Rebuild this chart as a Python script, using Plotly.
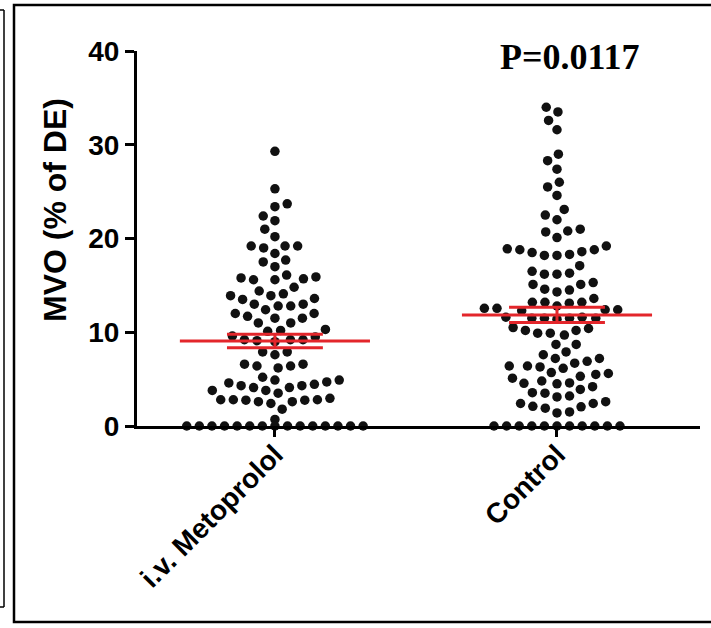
import math
import plotly.graph_objects as go

# ---------------- data ----------------
categories = ["i.v. Metoprolol", "Control"]

metoprolol = [29.3, 25.3, 23.7, 23.4, 22.4, 21.9, 21.0, 20.2, 19.2, 19.2, 19.2, 19.0,
              18.4, 17.7, 17.5, 17.0,
              16.1, 15.9, 15.8, 15.7, 15.6, 15.6,
              14.8, 14.4, 14.1, 13.9, 13.9, 13.6, 13.5,
              13.0, 13.0, 12.8, 12.8, 12.4, 12.0, 12.0, 11.7, 11.5, 11.5, 11.0, 11.0,
              10.3, 10.2, 10.1,
              9.6, 9.5, 9.2, 9.2, 9.2, 9.1, 9.0,
              7.9, 7.9, 7.6,
              6.6, 6.6, 6.4, 6.4, 6.2,
              5.2,
              4.9, 4.9, 4.7, 4.6, 4.45, 4.3, 4.3, 4.1, 4.1, 3.8, 3.8, 3.5,
              2.95, 2.8, 2.8, 2.8, 2.75, 2.75, 2.6, 2.6, 2.4,
              1.8, 0.7,
              0, 0, 0, 0, 0, 0, 0, 0, 0, 0, 0, 0, 0, 0, 0]

control = [34.0, 33.5, 32.6, 31.6,
           29.0, 28.3, 27.4, 26.0, 25.5, 24.6,
           23.1, 22.5, 22.0, 21.0, 20.8, 20.7, 20.1,
           19.2, 18.9, 18.8, 18.8, 18.6, 18.5, 18.3, 18.2, 18.2,
           17.1, 16.5, 16.3, 16.2, 16.2,
           15.3, 15.1, 15.1, 14.6, 14.5, 14.3,
           13.6, 13.2, 13.2, 13.2, 13.1, 12.8, 12.55, 12.55, 12.4, 12.4, 12.3,
           11.6, 11.5, 11.5, 11.4, 11.5, 11.5, 11.6,
           10.5, 10.2, 9.9, 9.7, 9.9, 10.2, 10.4,
           8.7, 8.7, 7.9, 7.6,
           7.2, 6.7, 6.4, 6.15, 6.3, 6.4, 6.9, 7.2,
           5.6, 5.3, 4.8, 4.55, 4.5, 4.6, 5.1, 5.5, 5.7,
           3.9, 3.55, 3.2, 3.1, 3.5, 4.2,
           2.4, 2.1, 2.05, 2.4, 2.6,
           1.5, 1.4, 1.9,
           0, 0, 0, 0, 0, 0, 0, 0, 0, 0, 0]

group_values = [metoprolol, control]
mean_vals = [9.07, 11.85]
sem_vals = [0.72, 0.82]

y_ticks = [0, 10, 20, 30, 40]
y_title = "MVO (% of DE)"
p_text = "P=0.0117"

# ---------------- layout geometry ----------------
W, H = 711, 628
ML, MR, MT, MB = 137, 11, 51, 202
PW, PH = W - ML - MR, H - MT - MB
X_RANGE = [-0.489, 1.507]
Y_RANGE = [0, 40]
PX_PER_X = PW / (X_RANGE[1] - X_RANGE[0])
PX_PER_Y = PH / (Y_RANGE[1] - Y_RANGE[0])

DOT_GAP = 12.6      # px distance between dot centres in a row
AXIS_ROW_WEIGHT = 2  # dots just above the axis row may overlap it


def swarm_offsets(vals):
    """Beeswarm layout in pixel space, returns offsets in x-data units."""
    order = sorted(range(len(vals)), key=lambda i: vals[i])
    placed = []
    offs = [0.0] * len(vals)
    for i in order:
        y = vals[i] * PX_PER_Y
        ivs = []
        for (xj, yj) in placed:
            dy = abs(y - yj)
            if (yj == 0) != (y == 0):
                dy *= AXIS_ROW_WEIGHT
            if dy < DOT_GAP:
                w = math.sqrt(DOT_GAP ** 2 - dy ** 2)
                ivs.append((xj - w, xj + w))
        cands = [0.0] + [a for a, b in ivs] + [b for a, b in ivs]
        valid = [c for c in cands if all(not (a + 1e-6 < c < b - 1e-6) for a, b in ivs)]
        npos = sum(1 for p in placed if p[0] > 0)
        nneg = sum(1 for p in placed if p[0] < 0)
        pref = 1 if npos <= nneg else -1
        best = min(valid, key=lambda c: (round(abs(c), 4), 0 if c * pref >= 0 else 1))
        placed.append((best, y))
        offs[i] = best / PX_PER_X
    return offs


fig = go.Figure()

for gi, vals in enumerate(group_values):
    offs = swarm_offsets(vals)
    fig.add_trace(go.Scatter(
        x=[gi + o for o in offs], y=vals, mode="markers",
        marker=dict(size=9.5, color="#111111", line=dict(width=0)),
        cliponaxis=False, showlegend=False, hoverinfo="y"))

# mean and SEM bars
MEAN_HALF = 0.337
CAP_HALF = 0.170
lx, ly = [], []
for gi, (m, s) in enumerate(zip(mean_vals, sem_vals)):
    lx += [gi - MEAN_HALF, gi + MEAN_HALF, None,
           gi - CAP_HALF, gi + CAP_HALF, None,
           gi - CAP_HALF, gi + CAP_HALF, None,
           gi, gi, None]
    ly += [m, m, None, m + s, m + s, None, m - s, m - s, None, m - s, m + s, None]
fig.add_trace(go.Scatter(x=lx, y=ly, mode="lines",
                         line=dict(color="#e3262b", width=3),
                         cliponaxis=False, showlegend=False, hoverinfo="skip"))


def px_to_paper(px, py):
    return (px - ML) / PW, (MT + PH - py) / PH


shapes = []
# outer frame
x0, y0 = px_to_paper(14, 5)
x1, y1 = px_to_paper(716, 622)
shapes.append(dict(type="rect", xref="paper", yref="paper", x0=x0, y0=y1, x1=x1, y1=y0,
                   line=dict(color="black", width=2.5)))
# neighbouring panel edge at the far left
a0, b0 = px_to_paper(4, 10)
a1, b1 = px_to_paper(4, 607)
c0, _ = px_to_paper(-2, 10)
shapes.append(dict(type="line", xref="paper", yref="paper", x0=a0, y0=b0, x1=a1, y1=b1,
                   line=dict(color="black", width=1.5)))
shapes.append(dict(type="line", xref="paper", yref="paper", x0=c0, y0=b0, x1=a0, y1=b0,
                   line=dict(color="black", width=1.5)))
shapes.append(dict(type="line", xref="paper", yref="paper", x0=c0, y0=b1, x1=a1, y1=b1,
                   line=dict(color="black", width=1.5)))

FONT = "Liberation Sans, Arial, sans-serif"
tx, ty = px_to_paper(55, 210)
px_, py_ = px_to_paper(570, 57)

fig.update_layout(
    width=W, height=H,
    margin=dict(l=ML, r=MR, t=MT, b=MB, autoexpand=False),
    paper_bgcolor="white", plot_bgcolor="white",
    shapes=shapes,
    xaxis=dict(range=X_RANGE, tickvals=[0, 1], ticktext=categories,
               showline=True, linecolor="black", linewidth=3,
               ticks="outside", ticklen=8, tickwidth=3, tickcolor="black",
               tickangle=-45, showgrid=False, zeroline=False,
               ticklabelstandoff=-10,
               tickfont=dict(family=FONT, size=28, color="black", weight="bold")),
    yaxis=dict(range=Y_RANGE, tickvals=y_ticks,
               showline=True, linecolor="black", linewidth=3,
               ticks="outside", ticklen=9, tickwidth=3, tickcolor="black",
               showgrid=False, zeroline=False,
               tickfont=dict(family=FONT, size=28, color="black", weight="bold")),
    annotations=[
        dict(text=y_title, xref="paper", yref="paper", x=tx, y=ty, showarrow=False,
             textangle=-90, xanchor="center", yanchor="middle",
             font=dict(family=FONT, size=32, color="black", weight="bold")),
        dict(text=p_text, xref="paper", yref="paper", x=px_, y=py_, showarrow=False,
             xanchor="center", yanchor="middle",
             font=dict(family="Liberation Serif, Times New Roman, serif", size=36,
                       color="black", weight="bold")),
    ],
)

fig.write_html("out.html")
